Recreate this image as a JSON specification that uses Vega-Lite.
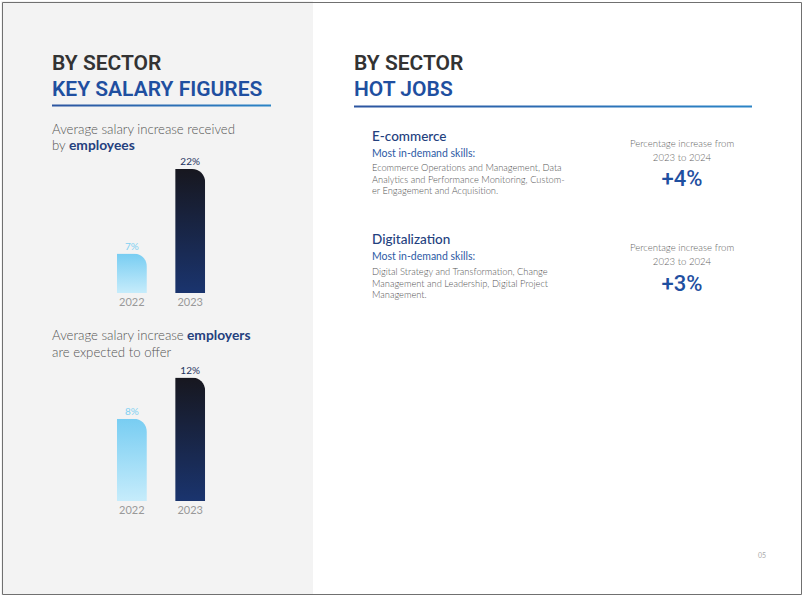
{
  "$schema": "https://vega.github.io/schema/vega-lite/v6.json",
  "width": 802,
  "height": 595,
  "padding": 0,
  "autosize": {"type": "fit", "contains": "padding"},
  "background": "#ffffff",
  "config": {
    "view": {"stroke": null},
    "text": {"font": "Lato"}
  },
  "datasets": {
    "salary": [
      {"chart": "employees", "year": "2022", "value": 0.07},
      {"chart": "employees", "year": "2023", "value": 0.22},
      {"chart": "employers", "year": "2022", "value": 0.08},
      {"chart": "employers", "year": "2023", "value": 0.12}
    ],
    "page": [{"n": 1}]
  },
  "layer": [
    {"data": {"name": "page"}, "mark": {"type": "rect", "x": 0, "x2": 312, "y": 0, "y2": 595, "fill": "#f3f3f3"}},
    {"data": {"name": "page"}, "mark": {"type": "text", "text": "BY SECTOR", "x": 51, "y": 69, "font": "Roboto", "fontSize": 21, "fontWeight": 600, "color": "#333333", "align": "left", "baseline": "alphabetic"}},
    {"data": {"name": "page"}, "mark": {"type": "text", "text": "KEY SALARY FIGURES", "x": 51, "y": 95, "font": "Roboto", "fontSize": 21, "fontWeight": 600, "color": "#1f4fa0", "align": "left", "baseline": "alphabetic"}},
    {"data": {"name": "page"}, "mark": {"type": "rect", "x": 51, "x2": 270, "y": 103.5, "y2": 105.5, "fill": {"gradient": "linear", "x1": 0, "y1": 0, "x2": 1, "y2": 0, "stops": [{"offset": 0, "color": "#2c55a0"}, {"offset": 1, "color": "#2b84c6"}]}}},
    {"data": {"name": "page"}, "mark": {"type": "text", "text": "Average salary increase received\nby", "lineBreak": "\n", "lineHeight": 16, "x": 51, "y": 133, "fontSize": 13.2, "fontWeight": 300, "color": "#555555", "align": "left", "baseline": "alphabetic"}},
    {"data": {"name": "page"}, "mark": {"type": "text", "text": "employees", "x": 68, "y": 149, "fontSize": 13.8, "fontWeight": 700, "color": "#24407e", "align": "left", "baseline": "alphabetic"}},
    {
      "data": {"name": "salary"},
      "transform": [{"filter": "datum.chart == 'employees'"}],
      "encoding": {
        "x": {"field": "year", "type": "nominal", "axis": null, "scale": {"domain": ["2022", "2023"], "range": [101.7, 218.3], "paddingInner": 0.485, "paddingOuter": 0.2427}},
        "y": {"field": "value", "type": "quantitative", "axis": null, "scale": {"domain": [0, 0.22], "range": [292, 168]}}
      },
      "layer": [
        {"transform": [{"filter": "datum.year == '2022'"}], "mark": {"type": "bar", "cornerRadiusTopRight": 13, "color": {"gradient": "linear", "x1": 0, "y1": 0, "x2": 0, "y2": 1, "stops": [{"offset": 0, "color": "#78cdf2"}, {"offset": 1, "color": "#c6ecfb"}]}}},
        {"transform": [{"filter": "datum.year == '2023'"}], "mark": {"type": "bar", "cornerRadiusTopRight": 13, "color": {"gradient": "linear", "x1": 0, "y1": 0, "x2": 0, "y2": 1, "stops": [{"offset": 0, "color": "#17171f"}, {"offset": 1, "color": "#1a346e"}]}}},
        {"mark": {"type": "text", "dy": -4, "baseline": "alphabetic", "fontSize": 10}, "encoding": {"text": {"field": "value", "type": "quantitative", "format": ".0%"}, "color": {"field": "year", "type": "nominal", "scale": {"domain": ["2022", "2023"], "range": ["#7fd0f2", "#243360"]}, "legend": null}}},
        {"mark": {"type": "text", "dy": 13, "baseline": "alphabetic", "fontSize": 11, "color": "#999999"}, "encoding": {"y": {"datum": 0}, "text": {"field": "year", "type": "nominal"}}}
      ]
    },
    {"data": {"name": "page"}, "mark": {"type": "text", "text": "Average salary increase\nare expected to offer", "lineBreak": "\n", "lineHeight": 17.4, "x": 51, "y": 339, "fontSize": 13.2, "fontWeight": 300, "color": "#555555", "align": "left", "baseline": "alphabetic"}},
    {"data": {"name": "page"}, "mark": {"type": "text", "text": "employers", "x": 186, "y": 339, "fontSize": 13.8, "fontWeight": 700, "color": "#24407e", "align": "left", "baseline": "alphabetic"}},
    {
      "data": {"name": "salary"},
      "transform": [{"filter": "datum.chart == 'employers'"}],
      "encoding": {
        "x": {"field": "year", "type": "nominal", "axis": null, "scale": {"domain": ["2022", "2023"], "range": [101.7, 218.3], "paddingInner": 0.485, "paddingOuter": 0.2427}},
        "y": {"field": "value", "type": "quantitative", "axis": null, "scale": {"domain": [0, 0.12], "range": [500, 376.5]}}
      },
      "layer": [
        {"transform": [{"filter": "datum.year == '2022'"}], "mark": {"type": "bar", "cornerRadiusTopRight": 13, "color": {"gradient": "linear", "x1": 0, "y1": 0, "x2": 0, "y2": 1, "stops": [{"offset": 0, "color": "#78cdf2"}, {"offset": 1, "color": "#c6ecfb"}]}}},
        {"transform": [{"filter": "datum.year == '2023'"}], "mark": {"type": "bar", "cornerRadiusTopRight": 13, "color": {"gradient": "linear", "x1": 0, "y1": 0, "x2": 0, "y2": 1, "stops": [{"offset": 0, "color": "#17171f"}, {"offset": 1, "color": "#1a346e"}]}}},
        {"mark": {"type": "text", "dy": -4, "baseline": "alphabetic", "fontSize": 10}, "encoding": {"text": {"field": "value", "type": "quantitative", "format": ".0%"}, "color": {"field": "year", "type": "nominal", "scale": {"domain": ["2022", "2023"], "range": ["#7fd0f2", "#243360"]}, "legend": null}}},
        {"mark": {"type": "text", "dy": 13, "baseline": "alphabetic", "fontSize": 11, "color": "#999999"}, "encoding": {"y": {"datum": 0}, "text": {"field": "year", "type": "nominal"}}}
      ]
    },
    {"data": {"name": "page"}, "mark": {"type": "text", "text": "BY SECTOR", "x": 353, "y": 69, "font": "Roboto", "fontSize": 21, "fontWeight": 600, "color": "#333333", "align": "left", "baseline": "alphabetic"}},
    {"data": {"name": "page"}, "mark": {"type": "text", "text": "HOT JOBS", "x": 353, "y": 95, "font": "Roboto", "fontSize": 21, "fontWeight": 600, "color": "#1f4fa0", "align": "left", "baseline": "alphabetic"}},
    {"data": {"name": "page"}, "mark": {"type": "rect", "x": 353, "x2": 751, "y": 104.5, "y2": 106.5, "fill": {"gradient": "linear", "x1": 0, "y1": 0, "x2": 1, "y2": 0, "stops": [{"offset": 0, "color": "#2c55a0"}, {"offset": 1, "color": "#2b84c6"}]}}},
    {"data": {"name": "page"}, "mark": {"type": "text", "text": "E-commerce", "x": 371, "y": 140, "fontSize": 13.5, "fontWeight": 500, "color": "#23407e", "align": "left", "baseline": "alphabetic"}},
    {"data": {"name": "page"}, "mark": {"type": "text", "text": "Most in-demand skills:", "x": 371, "y": 156, "fontSize": 10.5, "color": "#2d5aa5", "align": "left", "baseline": "alphabetic"}},
    {"data": {"name": "page"}, "mark": {"type": "text", "text": "Ecommerce Operations and Management, Data\nAnalytics and Performance Monitoring, Custom-\ner Engagement and Acquisition.", "lineBreak": "\n", "lineHeight": 11.7, "x": 371, "y": 170, "fontSize": 9.3, "fontWeight": 300, "color": "#555555", "align": "left", "baseline": "alphabetic"}},
    {"data": {"name": "page"}, "mark": {"type": "rule", "x": 591, "x2": 591, "y": 123, "y2": 200, "color": "#b5b5b5", "strokeWidth": 1}, "encoding": {}},
    {"data": {"name": "page"}, "mark": {"type": "text", "text": "Percentage increase from\n2023 to 2024", "lineBreak": "\n", "lineHeight": 14, "x": 681, "y": 146, "fontSize": 9.6, "fontWeight": 300, "color": "#666666", "align": "center", "baseline": "alphabetic"}},
    {"data": {"name": "page"}, "mark": {"type": "text", "text": "+4%", "x": 681, "y": 185, "font": "Roboto", "fontSize": 22, "fontWeight": 500, "color": "#1f4fa0", "align": "center", "baseline": "alphabetic"}},
    {"data": {"name": "page"}, "mark": {"type": "text", "text": "Digitalization", "x": 371, "y": 243, "fontSize": 13.5, "fontWeight": 500, "color": "#23407e", "align": "left", "baseline": "alphabetic"}},
    {"data": {"name": "page"}, "mark": {"type": "text", "text": "Most in-demand skills:", "x": 371, "y": 259, "fontSize": 10.5, "color": "#2d5aa5", "align": "left", "baseline": "alphabetic"}},
    {"data": {"name": "page"}, "mark": {"type": "text", "text": "Digital Strategy and Transformation, Change\nManagement and Leadership, Digital Project\nManagement.", "lineBreak": "\n", "lineHeight": 11.7, "x": 371, "y": 274, "fontSize": 9.3, "fontWeight": 300, "color": "#555555", "align": "left", "baseline": "alphabetic"}},
    {"data": {"name": "page"}, "mark": {"type": "rule", "x": 591, "x2": 591, "y": 227, "y2": 303, "color": "#b5b5b5", "strokeWidth": 1}, "encoding": {}},
    {"data": {"name": "page"}, "mark": {"type": "text", "text": "Percentage increase from\n2023 to 2024", "lineBreak": "\n", "lineHeight": 14, "x": 681, "y": 250, "fontSize": 9.6, "fontWeight": 300, "color": "#666666", "align": "center", "baseline": "alphabetic"}},
    {"data": {"name": "page"}, "mark": {"type": "text", "text": "+3%", "x": 681, "y": 290, "font": "Roboto", "fontSize": 22, "fontWeight": 500, "color": "#1f4fa0", "align": "center", "baseline": "alphabetic"}},
    {"data": {"name": "page"}, "mark": {"type": "text", "text": "05", "x": 757, "y": 557, "fontSize": 7, "color": "#aaaaaa", "align": "left", "baseline": "alphabetic"}},
    {"data": {"name": "page"}, "mark": {"type": "rect", "x": 1.5, "x2": 800.5, "y": 1.5, "y2": 593.5, "fillOpacity": 0, "stroke": "#707070", "strokeWidth": 1}}
  ],
  "resolve": {"scale": {"x": "independent", "y": "independent"}}
}
